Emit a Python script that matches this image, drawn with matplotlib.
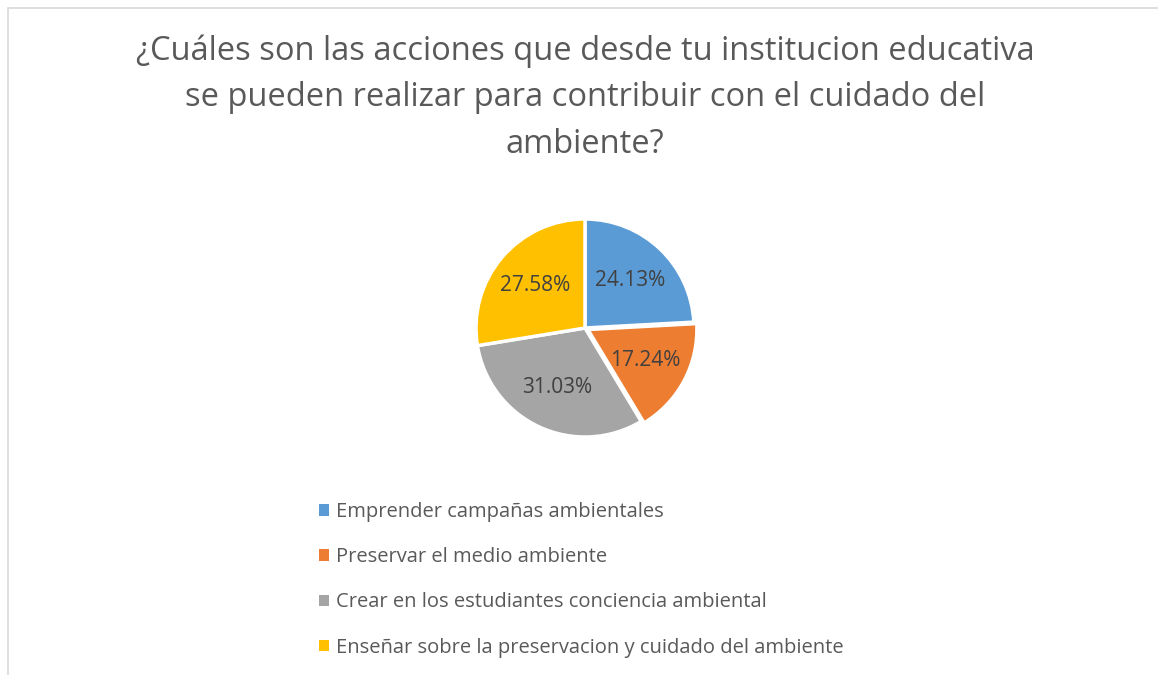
import matplotlib
matplotlib.use("Agg")
import matplotlib.pyplot as plt
from matplotlib.patches import Rectangle

categories = ["Emprender campañas ambientales",
              "Preservar el medio ambiente",
              "Crear en los estudiantes conciencia ambiental",
              "Enseñar sobre la preservacion y cuidado del ambiente"]
values = [24.13, 17.24, 31.03, 27.58]
colors = ["#5B9BD5", "#ED7D31", "#A5A5A5", "#FFC000"]
title = "¿Cuáles son las acciones que desde tu institucion educativa\nse pueden realizar para contribuir con el cuidado del\nambiente?"

W, H = 1158, 675
fig = plt.figure(figsize=(W/100, H/100), dpi=100)
fig.patch.set_facecolor("white")
font = "Open Sans"

# chart border
fig.add_artist(Rectangle((8/W, -0.1), 1.2, (H-8)/H + 0.1, transform=fig.transFigure,
                         fill=False, edgecolor="#D9D9D9", linewidth=1.2))

fig.text(585/W, 1-34/H, title, ha="center", va="top", fontsize=23.5,
         color="#595959", family=font, linespacing=1.55)

cx, cy, r = 585, 328, 109
ax = fig.add_axes([(cx-r*1.1)/W, 1-(cy+r*1.1)/H, 2.2*r/W, 2.2*r/H])
wedges, texts, autotexts = ax.pie(values, colors=colors, startangle=90, counterclock=False,
       explode=[0, 0.03, 0, 0],
       autopct=lambda p: f"{p:.2f}%", pctdistance=0.6,
       wedgeprops=dict(edgecolor="white", linewidth=2.5),
       textprops=dict(fontsize=15, color="#404040", family=font))
for t, v in zip(autotexts, values):
    t.set_text(f"{v:.2f}%")
ax.set_xlim(-1.1, 1.1)
ax.set_ylim(-1.1, 1.1)
ax.set_aspect("equal")
ax.axis("off")

leg = fig.legend(wedges, categories, loc="upper left",
                 bbox_to_anchor=(301/W, 1-484/H), frameon=False,
                 prop=dict(family=font, size=14.5), labelcolor="#595959",
                 handlelength=0.5, handleheight=0.5, handletextpad=0.35,
                 labelspacing=1.25)
for h in leg.legend_handles:
    h.set_edgecolor("none")

fig.savefig("out.png", dpi=100)
